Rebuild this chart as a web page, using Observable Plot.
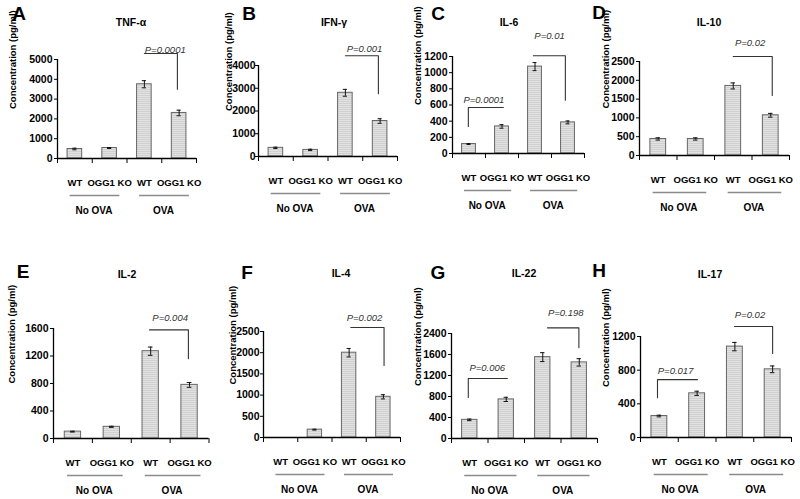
<!DOCTYPE html>
<html><head><meta charset="utf-8">
<script src="https://cdn.jsdelivr.net/npm/d3@7"></script>
<script src="https://cdn.jsdelivr.net/npm/@observablehq/plot@0.6"></script>
<style>
body{margin:0;background:#fff;}
#fig{position:relative;width:800px;height:499px;overflow:hidden;background:#fff;font-family:"Liberation Sans",Arial,sans-serif;color:#000;}
.lt{position:absolute;font-weight:bold;font-size:19px;transform:translate(-50%,-50%);line-height:1;}
.tt{position:absolute;font-weight:bold;font-size:10.5px;transform:translate(-50%,-50%);line-height:1;white-space:nowrap;}
</style></head><body>
<svg width="0" height="0" style="position:absolute">
  <defs>
    <pattern id="hstripe" width="4" height="2" patternUnits="userSpaceOnUse">
      <rect width="4" height="2" fill="#e2e2e2"></rect>
      <rect width="4" height="1" fill="#d0d0d0"></rect>
    </pattern>
  </defs>
</svg>
<div id="fig"></div>
<script>
// ---- text content ----
const letters = ["A", "B", "C", "D", "E", "F", "G", "H"];
const titles = ["TNF-\u03b1", "IFN-\u03b3", "IL-6", "IL-10", "IL-2", "IL-4", "IL-22", "IL-17"];
const genotypes = ["WT", "OGG1 KO", "WT", "OGG1 KO"];
const groups = ["No OVA", "OVA"];
const yLabel = "Concentration (pg/ml)";

// ---- values (pg/ml): WT NoOVA, KO NoOVA, WT OVA, KO OVA ----
const tnfA = [480, 530, 3750, 2300];
const tnfAErr = [40, 25, 180, 140];
const ifnG = [380, 290, 2800, 1560];
const ifnGErr = [30, 30, 150, 100];
const il6 = [117, 335, 1075, 385];
const il6Err = [6, 22, 50, 18];
const il10 = [440, 440, 1850, 1070];
const il10Err = [30, 30, 80, 50];
const il2 = [100, 170, 1270, 780];
const il2Err = [6, 8, 60, 35];
const il4 = [0, 185, 2000, 960];
const il4Err = [0, 10, 100, 50];
const il22 = [355, 745, 1550, 1450];
const il22Err = [15, 40, 85, 70];
const il17 = [255, 525, 1080, 810];
const il17Err = [10, 25, 50, 40];

// ---- y tick values / labels ----
const ticksA = [0, 1000, 2000, 3000, 4000, 5000];
const ticksB = [0, 1000, 2000, 3000, 4000];
const ticksC = [0, 200, 400, 600, 800, 1000, 1200];
const ticksD = [0, 500, 1000, 1500, 2000, 2500];
const ticksE = [0, 400, 800, 1200, 1600];
const ticksF = [0, 500, 1000, 1500, 2000, 2500];
const ticksG = [0, 400, 800, 1200, 1600, 2000];
const tickLabelsG = ["0", "400", "800", "1200", "1600", "2400"];
const ticksH = [0, 400, 800, 1200];

// ---- significance brackets (x in category units 0..4, y in pg/ml) ----
const bracketsA = [{x1: 2.5, x2: 3.45, y: 5300, yL: 5300, yR: 3500, lx: 3.1, ly: 5480, label: "P=0.0001"}];
const bracketsB = [{x1: 2.5, x2: 3.45, y: 4430, yL: 4430, yR: 2760, lx: 3.05, ly: 4730, label: "P=0.001"}];
const bracketsC = [
  {x1: 0.48, x2: 1.54, y: 570, yL: 334, yR: 570, lx: 0.95, ly: 660, label: "P=0.0001"},
  {x1: 2.45, x2: 3.42, y: 1210, yL: 1210, yR: 660, lx: 2.94, ly: 1460, label: "P=0.01"}
];
const bracketsD = [{x1: 2.5, x2: 3.54, y: 2633, yL: 2633, yR: 1596, lx: 2.95, ly: 2990, label: "P=0.02"}];
const bracketsE = [{x1: 2.47, x2: 3.47, y: 1580, yL: 1580, yR: 1160, lx: 3.0, ly: 1760, label: "P=0.004"}];
const bracketsF = [{x1: 2.55, x2: 3.52, y: 2595, yL: 2595, yR: 1700, lx: 2.95, ly: 2810, label: "P=0.002"}];
const bracketsG = [
  {x1: 0.46, x2: 1.53, y: 1142, yL: 782, yR: 1142, lx: 0.98, ly: 1335, label: "P=0.006"},
  {x1: 2.63, x2: 3.49, y: 2108, yL: 2108, yR: 1729, lx: 3.13, ly: 2392, label: "P=0.198"}
];
const bracketsH = [
  {x1: 0.45, x2: 1.51, y: 688, yL: 473, yR: 688, lx: 0.93, ly: 795, label: "P=0.017"},
  {x1: 2.49, x2: 3.5, y: 1319, yL: 1319, yR: 998, lx: 2.9, ly: 1460, label: "P=0.02"}
];

const panels = [
  {values: tnfA, errors: tnfAErr, ticks: ticksA, tickLabels: null, brackets: bracketsA},
  {values: ifnG, errors: ifnGErr, ticks: ticksB, tickLabels: null, brackets: bracketsB},
  {values: il6, errors: il6Err, ticks: ticksC, tickLabels: null, brackets: bracketsC},
  {values: il10, errors: il10Err, ticks: ticksD, tickLabels: null, brackets: bracketsD},
  {values: il2, errors: il2Err, ticks: ticksE, tickLabels: null, brackets: bracketsE},
  {values: il4, errors: il4Err, ticks: ticksF, tickLabels: null, brackets: bracketsF},
  {values: il22, errors: il22Err, ticks: ticksG, tickLabels: tickLabelsG, brackets: bracketsG},
  {values: il17, errors: il17Err, ticks: ticksH, tickLabels: null, brackets: bracketsH}
];

// ---- layout (page pixels) ----
const layout = [
  {ax: 57, ax2: 196, ay0: 158, ayT: 59, ylab: 45, lx: 19, ly: 13, tx: 131, ty: 22, pad: 2},
  {ax: 258, ax2: 397, ay0: 156, ayT: 65, ylab: 30, lx: 249, ly: 13, tx: 334, ty: 22, pad: 0},
  {ax: 452, ax2: 584, ay0: 153, ayT: 56, ylab: 35, lx: 438, ly: 13, tx: 509, ty: 22, pad: 2},
  {ax: 639, ax2: 789, ay0: 155, ayT: 61, ylab: 34, lx: 599, ly: 12, tx: 709, ty: 22, pad: 2},
  {ax: 52.5, ax2: 208, ay0: 438, ayT: 328, ylab: 42, lx: 23, ly: 271, tx: 127, ty: 274, pad: 2},
  {ax: 263, ax2: 400, ay0: 437, ayT: 331, ylab: 31, lx: 247, ly: 272, tx: 341, ty: 273, pad: 1},
  {ax: 451, ax2: 597, ay0: 438, ayT: 333, ylab: 34, lx: 438, ly: 272, tx: 524, ty: 273, pad: 2},
  {ax: 640, ax2: 791, ay0: 437, ayT: 336, ylab: 35, lx: 599, ly: 270, tx: 710, ty: 274, pad: 2}
];

const fig = document.getElementById("fig");
const FONT = "'Liberation Sans', Arial, sans-serif";

panels.forEach((p, k) => {
  const L = layout[k];
  const ML = 62, MR = 14, MT = 72, MB = 72;
  const W = L.ax2 - L.ax + ML + MR;
  const H = L.ay0 - L.ayT + MT + MB;
  const ymax = p.ticks[p.ticks.length - 1];
  const band = (L.ax2 - L.ax) / 4;
  const inset = band * 0.29;
  const bars = p.values.map((v, i) => ({i, v, e: p.errors[i]}));
  const errs = bars.filter(d => d.e > 0);
  const labelMap = new Map(p.ticks.map((t, i) => [t, p.tickLabels ? p.tickLabels[i] : String(t)]));
  const pts = p.brackets.flatMap((b, j) => [
    {j, x: b.x1, y: b.yL}, {j, x: b.x1, y: b.y}, {j, x: b.x2, y: b.y}, {j, x: b.x2, y: b.yR}
  ]);
  const cap = 0.06;

  const svg = Plot.plot({
    width: W, height: H,
    marginLeft: ML, marginRight: MR, marginTop: MT, marginBottom: MB,
    style: {fontFamily: FONT, fontSize: "10px", fontWeight: "bold", background: "transparent", overflow: "visible", color: "#000"},
    x: {domain: [0, 4], axis: null},
    y: {domain: [0, ymax], axis: null},
    marks: [
      Plot.rect(bars, {x1: d => d.i, x2: d => d.i + 1, y1: () => 0, y2: "v", insetLeft: inset, insetRight: inset,
        fill: "url(#hstripe)", stroke: "#666", strokeWidth: 1}),
      Plot.ruleX(errs, {x: d => d.i + 0.5, y1: d => d.v - d.e, y2: d => d.v + d.e, stroke: "#111", strokeWidth: 1}),
      Plot.ruleY(errs, {x1: d => d.i + 0.5 - cap, x2: d => d.i + 0.5 + cap, y: d => d.v + d.e, stroke: "#111", strokeWidth: 1}),
      Plot.ruleY(errs, {x1: d => d.i + 0.5 - cap, x2: d => d.i + 0.5 + cap, y: d => d.v - d.e, stroke: "#111", strokeWidth: 1}),
      Plot.axisY({ticks: p.ticks, tickFormat: d => labelMap.get(d), tickSize: 3, tickPadding: L.pad, label: null, fontSize: 10.5}),
      Plot.axisX({ticks: [0, 1, 2, 3, 4], tickFormat: () => "", tickSize: 5, label: null}),
      Plot.ruleY([0], {stroke: "#000", strokeWidth: 1.3}),
      Plot.ruleX([0], {stroke: "#000", strokeWidth: 1.3}),
      Plot.line(pts, {x: "x", y: "y", z: "j", stroke: "#333", strokeWidth: 1.1}),
      Plot.text(p.brackets, {x: "lx", y: "ly", text: "label", fontStyle: "italic", fontWeight: "normal", fill: "#333", fontSize: 9.5}),
      Plot.text([yLabel], {frameAnchor: "left", dx: -L.ylab, rotate: -90, fontSize: 9.5}),
      Plot.text(genotypes, {x: (d, i) => i + 0.5, y: () => 0, dy: 24, fontSize: 9.5}),
      Plot.link(groups, {x1: (d, i) => 2 * i + 0.35, x2: (d, i) => 2 * i + 1.78, y1: () => 0, y2: () => 0, dy: 37, stroke: "#8a8a8a", strokeWidth: 1.5}),
      Plot.text(groups, {x: (d, i) => 2 * i + 1.05, y: () => 0, dy: 52, fontSize: 10})
    ]
  });
  svg.style.position = "absolute";
  svg.style.left = (L.ax - ML) + "px";
  svg.style.top = (L.ayT - MT) + "px";
  svg.style.maxWidth = "none";
  fig.appendChild(svg);

  const lt = document.createElement("div");
  lt.className = "lt";
  lt.textContent = letters[k];
  lt.style.left = L.lx + "px";
  lt.style.top = L.ly + "px";
  fig.appendChild(lt);

  const tt = document.createElement("div");
  tt.className = "tt";
  tt.textContent = titles[k];
  tt.style.left = L.tx + "px";
  tt.style.top = L.ty + "px";
  fig.appendChild(tt);
});
</script>
</body></html>
